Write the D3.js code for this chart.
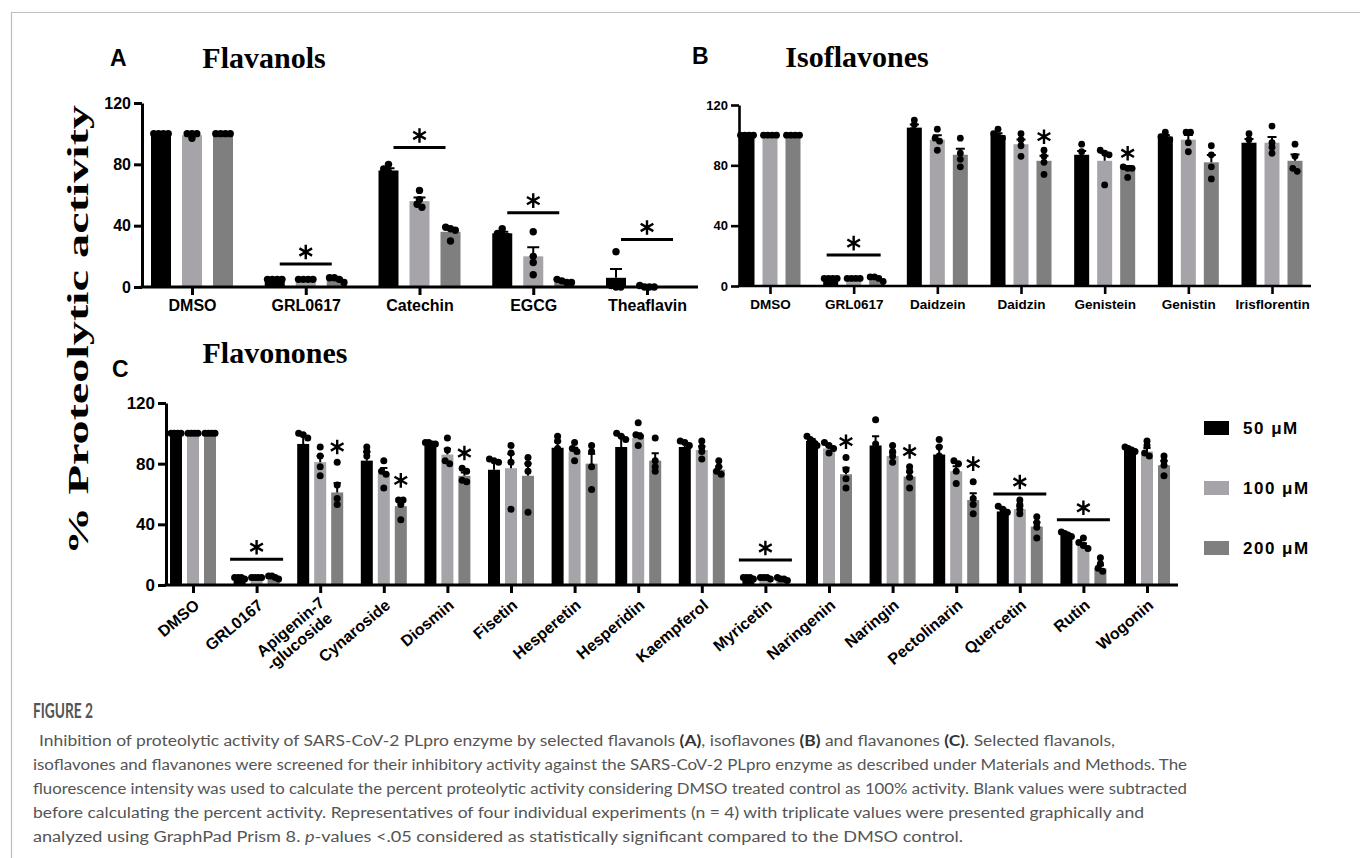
<!DOCTYPE html>
<html>
<head>
<meta charset="utf-8">
<script src="https://cdn.jsdelivr.net/npm/d3@7"></script>
<style>
body { margin: 0; background: #fff; }
svg text { font-family: "Liberation Sans", Arial, sans-serif; }
.axis path, .axis line { stroke: #000; }
.axis text { font-weight: bold; fill: #000; }
.title { font-family: "Liberation Serif", "Times New Roman", serif !important; font-weight: bold; }
.letter { font-weight: bold; font-size: 23px; }
.caption { font-family: Lato, "Open Sans", sans-serif !important; fill: #555; }
</style>
</head>
<body>
<svg id="fig" width="1360" height="858"></svg>
<script>
const series = ["50 μM", "100 μM", "200 μM"];
const colors = ["#000000", "#a6a4a9", "#7f7f7f"];
const yTicks = [0, 40, 80, 120];

// A: Flavanols
const aCats = ["DMSO", "GRL0617", "Catechin", "EGCG", "Theaflavin"];
const aMean50 = [100, 5, 76, 35, 6];
const aMean100 = [99, 5, 56, 20, 0.5];
const aMean200 = [100, 5, 36, 3, 0];
const aPts50 = [[100,100,100,100],[5,5,5,5],[80,77,75,73],[38,35,34,33],[23,1,0,0]];
const aPts100 = [[97,100,100,100],[5,5,5,5],[63,57,52,54],[36,20,16,8],[0,0,1,0]];
const aPts200 = [[100,100,100,100],[3,5,6,6],[39,38,37,30],[5,4,3,3],[]];
const aSig = [["GRL0617", 15], ["Catechin", 91], ["EGCG", 48.5], ["Theaflavin", 31]];
const aStars = [];

// B: Isoflavones
const bCats = ["DMSO", "GRL0617", "Daidzein", "Daidzin", "Genistein", "Genistin", "Irisflorentin"];
const bMean50 = [100, 5, 105, 100, 87, 99, 95];
const bMean100 = [100, 5, 97, 94, 83, 97, 95];
const bMean200 = [100, 5, 87, 83, 78, 82, 83];
const bPts50 = [[100,100,100,100],[5,5,5,5],[110,107,103,101],[104,101,99,98],[94,89,84,83],[102,99,98,97],[101,97,92,90]];
const bPts100 = [[100,100,100,100],[5,5,5,5],[104,98,96,90],[101,97,93,86],[90,88,87,67],[102,102,95,89],[106,95,92,88]];
const bPts200 = [[100,100,100,100],[3,5,6,6],[98,88,84,79],[90,86,82,74],[79,78,78,72],[93,87,79,71],[94,86,78,76]];
const bSig = [["GRL0617", 20.5]];
const bStars = [["Daidzin", 99], ["Genistein", 88]];

// C: Flavonones
const cCats = ["DMSO", "GRL0167", "Apigenin-7\n-glucoside", "Cynaroside", "Diosmin", "Fisetin", "Hesperetin", "Hesperidin",
  "Kaempferol", "Myricetin", "Naringenin", "Naringin", "Pectolinarin", "Quercetin", "Rutin", "Wogonin"];
const cMean50 = [100, 5, 93, 82, 93.5, 76, 90.5, 91, 91, 5, 95, 92, 86, 48.5, 33.5, 89];
const cMean100 = [100, 5, 81, 73.5, 86, 77, 88, 97, 89, 5, 90, 85, 75, 50, 26, 88];
const cMean200 = [100, 5, 61, 52, 72, 72, 80, 82, 76, 4, 73, 71.5, 56, 38.5, 11, 79];
const cPts50 = [[100,100,100,100],[4,5,5,5],[100,99,97,77],[91,88,85,66],[94,94,93,93],[83,82,81,58],[98,95,90,79],[100,98,96,70],
  [95,94,92,84],[5,5,4,5],[98,96,94,92],[109,93,88,80],[96,91,85,72],[52,50,48,44],[35,34,33,32],[91,90,89,88]];
const cPts100 = [[100,100,100,100],[5,5,5,5],[91,85,78,72],[82,75,73,64],[97,89,82,80],[92,87,81,50],[94,90,88,82],[107,99,98,92],
  [95,91,88,83],[5,5,5,4],[94,92,90,87],[92,88,85,81],[82,80,75,67],[56,53,50,47],[31,28,26,24],[95,92,87,85]];
const cPts200 = [[100,100,100,100],[4,5,6,6],[81,66,57,53],[56,56,53,43],[77,75,69,68],[84,80,75,48],[92,88,78,63],[97,82,78,75],
  [82,78,75,73],[4,4,5,3],[84,76,70,64],[78,75,71,64],[68,57,53,47],[45,41,38,31],[18,14,11,9],[85,82,79,72]];
const cSig = [["GRL0167", 17], ["Myricetin", 16.5], ["Quercetin", 60], ["Rutin", 43]];
const cStars = [["Apigenin-7\n-glucoside", 91], ["Cynaroside", 69], ["Diosmin", 87], ["Naringenin", 94.5], ["Naringin", 88], ["Pectolinarin", 80]];

const captionLines = [
  "Inhibition of proteolytic activity of SARS-CoV-2 PLpro enzyme by selected flavanols **(A)**, isoflavones **(B)** and flavanones **(C)**. Selected flavanols,",
  "isoflavones and flavanones were screened for their inhibitory activity against the SARS-CoV-2 PLpro enzyme as described under Materials and Methods. The",
  "fluorescence intensity was used to calculate the percent proteolytic activity considering DMSO treated control as 100% activity. Blank values were subtracted",
  "before calculating the percent activity. Representatives of four individual experiments (n = 4) with triplicate values were presented graphically and",
  "analyzed using GraphPad Prism 8. _p_-values <.05 considered as statistically significant compared to the DMSO control."
];

const svg = d3.select("#fig");

// frame
svg.append("path").attr("d", "M11.5,858V12.5H1360").attr("fill", "none").attr("stroke", "#bdbdbd").attr("stroke-width", 1.2);

const star = d3.symbol(d3.symbolAsterisk, 150);

// dots that sit close in y are grouped and spread evenly across the bar
function swarm(vals, y, r, bw) {
  const ys = vals.map(v => y(v)).sort((a, b) => a - b);
  const groups = [];
  ys.forEach(cy => {
    const last = groups[groups.length - 1];
    if (last && cy - last[last.length - 1] < r * 1.2) last.push(cy);
    else groups.push([cy]);
  });
  const out = [];
  groups.forEach(gr => {
    const n = gr.length;
    const s = n > 1 ? Math.min(r * 1.3, (bw - 2) / (n - 1)) : 0;
    gr.forEach((cy, k) => out.push({cx: (k - (n - 1) / 2) * s, cy}));
  });
  return out;
}

function panel(o) {
  const g = svg.append("g");
  const x = d3.scalePoint().domain(o.cats).range(o.xr);
  const y = d3.scaleLinear().domain([0, 120]).range(o.yr);
  const off = d3.scalePoint().domain(series).range([-o.off, o.off]);

  series.forEach((s, i) => {
    g.append("g").selectAll("rect").data(o.cats).join("rect")
      .attr("x", c => x(c) + off(s) - o.bw / 2)
      .attr("width", o.bw)
      .attr("y", (c, j) => y(o.means[i][j]))
      .attr("height", (c, j) => y(0) - y(o.means[i][j]))
      .attr("fill", colors[i]);
  });

  // error bars (mean + SEM)
  series.forEach((s, i) => {
    o.cats.forEach((c, j) => {
      const p = o.pts[i][j];
      if (p.length < 2) return;
      const sem = d3.deviation(p) / Math.sqrt(p.length);
      if (sem < 0.3) return;
      const cx = x(c) + off(s), top = y(o.means[i][j] + sem);
      g.append("path")
        .attr("d", `M${cx},${y(o.means[i][j])}V${top}M${cx - o.bw * 0.3},${top}H${cx + o.bw * 0.3}`)
        .attr("stroke", "#000").attr("stroke-width", 2).attr("fill", "none");
    });
  });

  // axes
  const ya = g.append("g").attr("class", "axis").attr("transform", `translate(${o.x0},0)`)
    .call(d3.axisLeft(y).tickValues(yTicks).tickSize(8).tickSizeOuter(0).tickPadding(3));
  ya.selectAll("path, line").attr("stroke-width", o.sw);
  ya.selectAll("text").style("font-size", o.yfs + "px");

  const xa = g.append("g").attr("class", "axis").attr("transform", `translate(0,${y(0)})`)
    .call(d3.axisBottom(x).tickSize(8).tickSizeOuter(0).tickPadding(5));
  xa.select(".domain").attr("d", `M${o.x0 - o.sw / 2},0H${o.x1}`);
  xa.selectAll("path, line").attr("stroke-width", o.sw);
  if (o.rotate) {
    xa.selectAll("text").remove();
    xa.selectAll(".tick").append("text")
      .attr("text-anchor", "end")
      .attr("transform", "translate(7,22) rotate(-40)")
      .style("font-size", o.xfs + "px")
      .each(function(c) {
        const lines = c.split("\n");
        d3.select(this).selectAll("tspan").data(lines).join("tspan")
          .attr("x", (l, k) => k === 0 ? 0 : -4).attr("dy", (l, k) => k === 0 ? (lines.length > 1 ? "-0.2em" : 0) : "1.05em")
          .text(l => l);
      });
  } else {
    xa.selectAll("text").style("font-size", o.xfs + "px");
  }

  // dots
  series.forEach((s, i) => {
    o.cats.forEach((c, j) => {
      const cx0 = x(c) + off(s);
      g.append("g").selectAll("circle").data(swarm(o.pts[i][j], y, o.r, o.bw)).join("circle")
        .attr("cx", d => cx0 + d.cx).attr("cy", d => d.cy).attr("r", o.r).attr("fill", "#000");
    });
  });

  // significance lines and stars
  o.sig.forEach(([c, v]) => {
    g.append("line").attr("x1", x(c) - o.sigw).attr("x2", x(c) + o.sigw)
      .attr("y1", y(v)).attr("y2", y(v)).attr("stroke", "#000").attr("stroke-width", 3);
    g.append("path").attr("d", star).attr("transform", `translate(${x(c)},${y(v) - 12})`)
      .attr("stroke", "#000").attr("stroke-width", 2.4).attr("fill", "none");
  });
  o.stars.forEach(([c, v]) => {
    g.append("path").attr("d", star).attr("transform", `translate(${x(c) + off(series[2])},${y(v)})`)
      .attr("stroke", "#000").attr("stroke-width", 2.4).attr("fill", "none");
  });

  g.append("text").attr("class", "title").attr("x", o.title[1]).attr("y", o.title[2])
    .attr("text-anchor", "middle").style("font-size", "30px").text(o.title[0]);
  g.append("text").attr("class", "letter").attr("x", o.letter[1]).attr("y", o.letter[2]).text(o.letter[0]);
}

panel({cats: aCats, means: [aMean50, aMean100, aMean200], pts: [aPts50, aPts100, aPts200], sig: aSig, stars: aStars,
  xr: [192, 647], yr: [287, 103], x0: 142, x1: 698, off: 31, bw: 20, r: 3.7, sw: 3, yfs: 16, xfs: 16, sigw: 26,
  title: ["Flavanols", 264, 68], letter: ["A", 110, 66]});

panel({cats: bCats, means: [bMean50, bMean100, bMean200], pts: [bPts50, bPts100, bPts200], sig: bSig, stars: bStars,
  xr: [770, 1272], yr: [286, 105], x0: 739, x1: 1311, off: 23, bw: 15, r: 3.4, sw: 2.6, yfs: 13, xfs: 13.5, sigw: 27,
  title: ["Isoflavones", 857, 67], letter: ["B", 692, 64]});

panel({cats: cCats, means: [cMean50, cMean100, cMean200], pts: [cPts50, cPts100, cPts200], sig: cSig, stars: cStars,
  xr: [193, 1147], yr: [585, 403], x0: 166, x1: 1178, off: 17, bw: 12, r: 3.5, sw: 3, yfs: 17, xfs: 16, sigw: 26.5, rotate: true,
  title: ["Flavonones", 275, 363], letter: ["C", 112, 377]});

// shared y label
svg.append("text").attr("class", "title")
  .attr("transform", "translate(88,330) rotate(-90)")
  .attr("text-anchor", "middle").style("font-size", "29px")
  .attr("textLength", 450).attr("lengthAdjust", "spacingAndGlyphs")
  .text("% Proteolytic activity");

// legend
const leg = svg.append("g").attr("transform", "translate(1204,0)");
const legY = d3.scalePoint().domain(series).range([428, 548]);
leg.selectAll("rect").data(series).join("rect")
  .attr("x", 0).attr("y", s => legY(s) - 7).attr("width", 25).attr("height", 14)
  .attr("fill", (s, i) => colors[i]);
leg.selectAll("text").data(series).join("text")
  .attr("x", 39).attr("y", s => legY(s) + 6)
  .style("font-size", "17px").style("font-weight", "bold").style("letter-spacing", "1.5px")
  .text(s => s);

// caption
svg.append("text").attr("class", "caption").attr("x", 33).attr("y", 718)
  .style("font-size", "20px").style("font-weight", "bold")
  .attr("textLength", 60).attr("lengthAdjust", "spacingAndGlyphs").text("FIGURE 2");

const capStart = [39, 33, 33, 33, 33];
const capEnd = [1115, 1187, 1187, 1144, 963];
captionLines.forEach((line, i) => {
  const t = svg.append("text").attr("class", "caption")
    .attr("x", capStart[i]).attr("y", 746 + i * 24)
    .style("font-size", "15.5px")
    .attr("textLength", capEnd[i] - capStart[i]).attr("lengthAdjust", "spacingAndGlyphs");
  line.split(/(\*\*[^*]+\*\*|_[^_]+_)/).filter(s => s.length).forEach(seg => {
    const ts = t.append("tspan");
    if (seg.startsWith("**")) ts.style("font-weight", "bold").style("fill", "#333").text(seg.slice(2, -2));
    else if (seg.startsWith("_")) ts.style("font-style", "italic").text(seg.slice(1, -1));
    else ts.text(seg);
  });
});
</script>
</body>
</html>
